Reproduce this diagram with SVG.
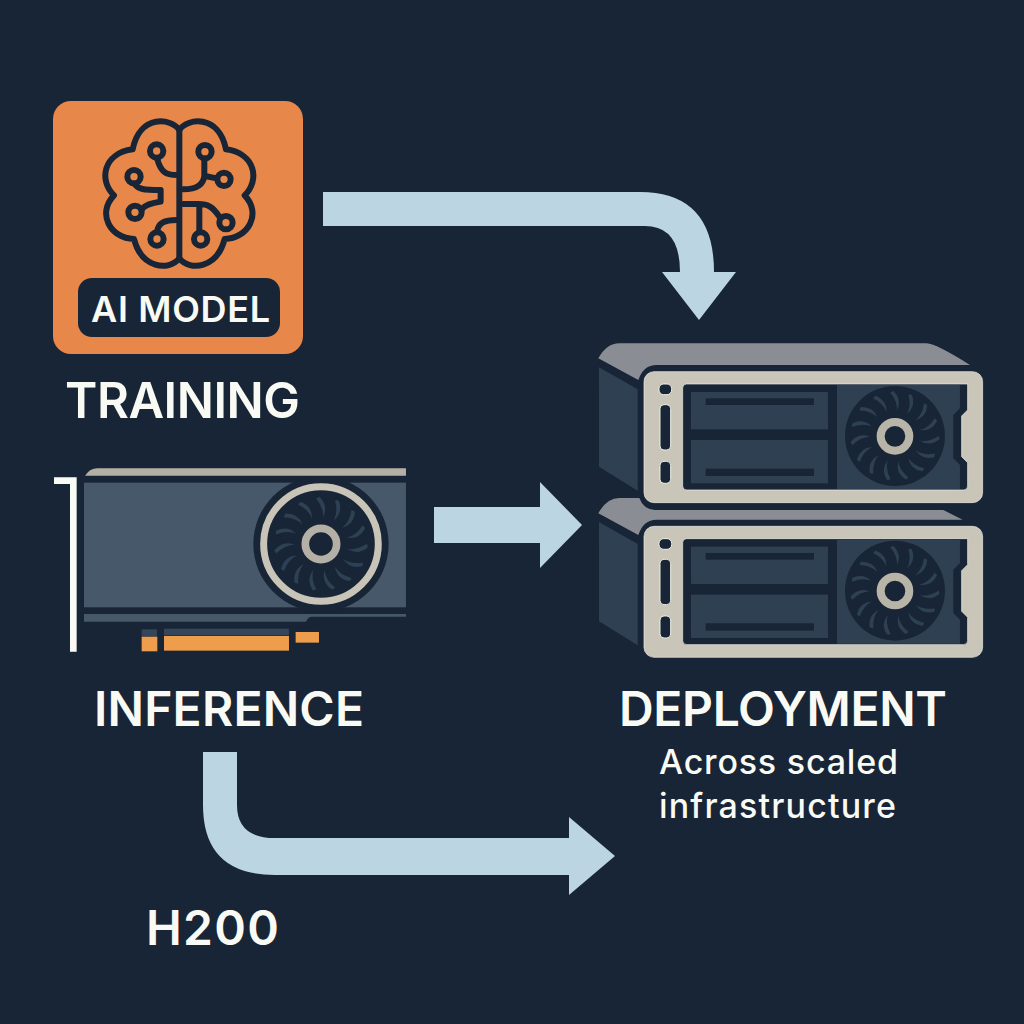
<svg xmlns="http://www.w3.org/2000/svg" width="1024" height="1024" viewBox="0 0 1024 1024">
<style>
.label{font-family:"Inter","Liberation Sans",sans-serif;font-weight:600;fill:#FAFAF5}
.sub{font-family:"Inter","Liberation Sans",sans-serif;font-weight:500;fill:#FAFAF5;font-size:34px}
.brain{fill:none;stroke:#182536;stroke-width:18;stroke-linecap:round;stroke-linejoin:round}
.conn{fill:#BCD5E2}
.dark{fill:#182536}
.steel{fill:#2F4052}
.blade{fill:#2E4154}
.slot{fill:#182536;stroke:#F2F0E8;stroke-width:3}
</style>
<defs>
<path id="blade" class="blade" d="M-4,-134 Q22,-108 6,-76 Q8,-104 -14,-130 Q-9,-133 -4,-134Z"/>
<g id="blades">
<use href="#blade"/><use href="#blade" transform="rotate(24)"/><use href="#blade" transform="rotate(48)"/><use href="#blade" transform="rotate(72)"/><use href="#blade" transform="rotate(96)"/><use href="#blade" transform="rotate(120)"/><use href="#blade" transform="rotate(144)"/><use href="#blade" transform="rotate(168)"/><use href="#blade" transform="rotate(192)"/><use href="#blade" transform="rotate(216)"/><use href="#blade" transform="rotate(240)"/><use href="#blade" transform="rotate(264)"/><use href="#blade" transform="rotate(288)"/><use href="#blade" transform="rotate(312)"/><use href="#blade" transform="rotate(336)"/>
</g>
<g id="server-body">
<path class="steel" d="M27,112 L143,178 V482 L27,410Z"/>
<rect x="162" y="125" width="1016" height="393" rx="30" fill="#C9C5B8" stroke="#F2F0E8" stroke-width="2"/>
<path class="dark" stroke="#F2F0E8" stroke-width="2" d="M290,162 H1133 V240 L1115,258 V380 L1133,398 V468 Q1133,480 1121,480 H290 Q278,480 278,468 V174 Q278,162 290,162Z"/>
<path class="steel" d="M741,165 H1110 V235 L1090,255 V385 L1110,405 V477 H741Z"/>
<rect class="steel" x="303" y="186" width="411" height="112"/>
<rect class="steel" x="303" y="330" width="411" height="130"/>
<rect class="dark" x="347" y="205" width="325" height="20"/>
<rect class="dark" x="347" y="416" width="325" height="22"/>
<circle class="dark" cx="915" cy="318" r="150"/>
<use href="#blades" transform="translate(915,318)"/>
<circle cx="915" cy="319" r="43" fill="#182536" stroke="#B8B4A8" stroke-width="24"/>
<rect class="slot" x="207" y="162" width="38" height="32" rx="14"/>
<rect class="slot" x="210" y="224" width="32" height="136" rx="12"/>
<rect class="slot" x="210" y="394" width="32" height="66" rx="12"/>
</g>
</defs>
<rect width="1024" height="1024" fill="#182536"/>
<g id="connectors">
<path class="conn" d="M323,192 H640 Q714,192 714,272 H736 L699,320 L662,272 H680 Q680,226 645,226 H323Z"/>
<path class="conn" d="M434,507 H540 V482 L582,525 L540,568 V543 H434Z"/>
<path class="conn" d="M203,752 H237 V805 Q237,838 275,838 H569 V817 L615,856 L569,895 V875 H275 Q203,875 203,805Z"/>
</g>
<g id="training">
<rect x="53" y="101" width="250" height="253" rx="18" fill="#E8874A"/>
<g transform="translate(40,90) scale(0.3333)">
<path class="brain" d="M418,120 C395,85 300,70 278,178 C190,190 175,270 222,316 C170,370 210,445 282,447 C305,535 385,545 418,505 C451,545 531,535 554,447 C626,445 666,370 614,316 C661,270 646,190 558,178 C536,70 441,85 418,120Z"/>
<path class="brain" d="M418,120 V505"/>
<path class="brain" d="M352,208 C362,245 378,255 410,255 M284,282 C295,298 310,300 362,300 V335 C330,340 315,345 305,358 M351,425 C355,398 375,390 410,390 M493,208 V258 C490,285 470,298 430,298 M495,258 L530,265 M430,342 H475 C505,342 520,352 538,380 M478,345 V425"/>
<circle class="brain" cx="350" cy="183" r="20"/><circle class="brain" cx="282" cy="260" r="20"/><circle class="brain" cx="285" cy="367" r="20"/><circle class="brain" cx="351" cy="447" r="20"/>
<circle class="brain" cx="495" cy="185" r="20"/><circle class="brain" cx="552" cy="268" r="20"/><circle class="brain" cx="558" cy="398" r="20"/><circle class="brain" cx="482" cy="447" r="20"/>
</g>
<rect x="78" y="278" width="202" height="59" rx="14" fill="#182536"/>
<text class="label" x="91" y="322" font-size="36" textLength="179">AI MODEL</text>
<text class="label" x="65" y="418" font-size="49" textLength="235">TRAINING</text>
</g>
<g id="inference">
<g transform="translate(40,460) scale(0.3333)">
<path d="M135,47 Q150,25 172,25 H1098 V47Z" fill="#B5B0A6"/>
<rect x="132" y="68" width="966" height="374" fill="#46586A"/>
<path d="M132,462 H1098 V470 H815 Q805,470 798,485 H132Z" fill="#46586A"/>
<circle class="dark" cx="843" cy="252" r="203"/>
<circle cx="843" cy="252" r="172" fill="#182536" stroke="#C8C4B8" stroke-width="21"/>
<use href="#blades" transform="translate(843,252) scale(1.05)"/>
<circle cx="843" cy="252" r="47" fill="#182536" stroke="#B5B0A6" stroke-width="23"/>
<path d="M42,52 H110 V575 H90 V72 H42Z" fill="#FBFBF5"/>
<rect x="305" y="508" width="46" height="20" fill="#33465A"/>
<rect x="372" y="506" width="375" height="20" fill="#33465A"/>
<rect x="305" y="530" width="47" height="44" fill="#EE9D4C"/>
<rect x="372" y="528" width="375" height="44" fill="#EE9D4C"/>
<rect x="767" y="516" width="70" height="32" fill="#EE9D4C"/>
</g>
<text class="label" x="94" y="726" font-size="48" textLength="270">INFERENCE</text>
</g>
<g id="deployment">
<g transform="translate(590,330) scale(0.3333)">
<path d="M25,85 Q50,40 88,40 H1010 Q1040,42 1140,105 H200 Q160,105 145,150Z" fill="#8A8E94"/>
<use href="#server-body"/>
<path d="M25,550 Q50,504 88,504 H148 Q160,538 195,540 H1060 L1118,569 H200 Q160,569 145,615Z" fill="#8A8E94"/>
<use href="#server-body" y="464"/>
</g>
<text class="label" x="619" y="726" font-size="48" textLength="328">DEPLOYMENT</text>
<text class="sub" x="659" y="774" textLength="239">Across scaled</text>
<text class="sub" x="659" y="818" textLength="237">infrastructure</text>
</g>
<g id="h200">
<text class="label" x="146" y="945" font-size="48" textLength="133">H200</text>
</g>
</svg>
